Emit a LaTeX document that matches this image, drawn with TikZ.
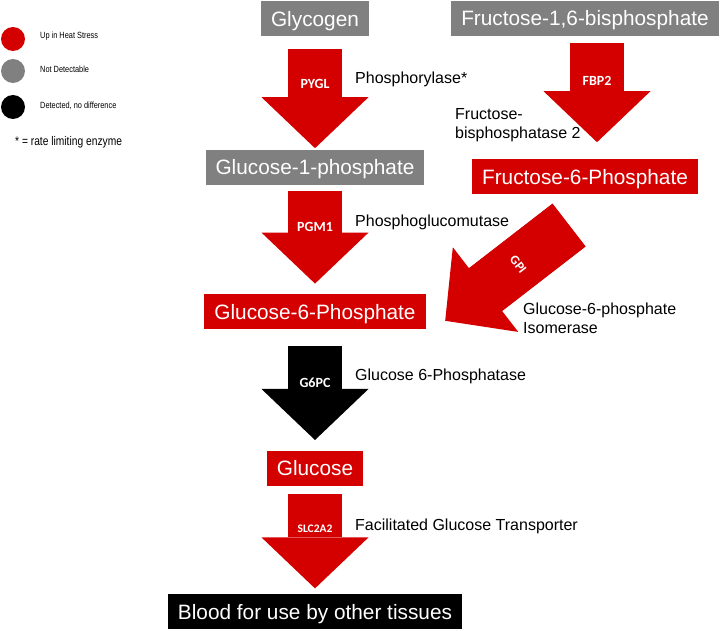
\documentclass[tikz,border=0pt]{standalone}
\usepackage{fontspec}
\setmainfont{Liberation Sans}
\newfontfamily\enzymefont{Carlito}
\newfontfamily\keyfont[FakeStretch=0.82]{Liberation Sans}
\usetikzlibrary{arrows.meta,positioning,calc}
\definecolor{heatred}{RGB}{212,0,0}
\definecolor{ndgray}{RGB}{128,128,128}

\begin{document}
\begin{tikzpicture}[x=1pt,y=1pt,
    met node/.style={inner xsep=10pt,inner ysep=0pt,minimum height=35pt,
      text height=15pt,text depth=0pt,text=white,font=\fontsize{20.8}{25}\selectfont},
    up node/.style={met node,fill=heatred},
    nd node/.style={met node,fill=ndgray},
    same node/.style={met node,fill=black},
    flux/.style={line width=54pt,-{Triangle[length=51pt,width=107pt,line width=0pt]}},
    enzyme/.style={text=white,inner sep=0pt,text height=9pt,text depth=0pt,
      font=\enzymefont\bfseries\fontsize{14}{16}\selectfont},
    enzyme name/.style={anchor=north west,inner sep=0pt,align=left,
      font=\fontsize{16}{19}\selectfont},
    key dot/.style={circle,inner sep=0pt,minimum size=24pt},
    key text/.style={anchor=base west,inner sep=0pt,font=\keyfont\fontsize{9}{11}\selectfont}]

  \useasboundingbox (0,0) rectangle (724,-631);

  % legend
  \node[key dot,fill=heatred] (k1) at (13,-39) {};
  \node[key dot,fill=ndgray] (k2) at (13,-71) {};
  \node[key dot,fill=black] (k3) at (13,-107) {};
  \node[key text] (t1) at (40,-38.5) {Up in Heat Stress};
  \node[key text] (t2) at (40,-73) {Not Detectable};
  \node[key text] (t3) at (40,-109) {Detected, no difference};
  \node[key text,font=\keyfont\fontsize{12.5}{14}\selectfont] (t4) at (15,-146) {* = rate limiting enzyme};

  % metabolites
  \node[nd node] (glycogen) at (315,-19) {Glycogen};
  \node[nd node] (g1p) [below=113pt of glycogen] {Glucose-1-phosphate};
  \node[up node] (g6p) [below=109pt of g1p] {Glucose-6-Phosphate};
  \node[up node] (glucose) [below=121pt of g6p] {Glucose};
  \node[same node] (blood) [below=108pt of glucose] {Blood for use by other tissues};
  \node[nd node] (f16bp) at (585,-18.5) {Fructose-1,6-bisphosphate};
  \node[up node] (f6p) [below=123pt of f16bp] {Fructose-6-Phosphate};

  \coordinate (gpi start) at ([shift={(-16pt,-30.5pt)}]f6p.south);
  \coordinate (gpi tip) at ([shift={(19.4pt,-9pt)}]g6p.east);

  % enzymes
  \path
    ([yshift=-12.5pt]glycogen.south) edge[flux,heatred] node[enzyme,pos=0.35] {PYGL} ([yshift=1.5pt]g1p.north)
    ([yshift=-5.5pt]g1p.south) edge[flux,heatred] node[enzyme,pos=0.39] {PGM1} ([yshift=10.5pt]g6p.north)
    ([yshift=-16.5pt]g6p.south) edge[flux,black] node[enzyme,pos=0.39] {G6PC} ([yshift=10.5pt]glucose.north)
    ([yshift=-8.5pt]glucose.south) edge[flux,heatred] node[enzyme,pos=0.37,text height=7.4pt,
        font=\enzymefont\bfseries\fontsize{11.5}{13}\selectfont] {SLC2A2} ([yshift=5.5pt]blood.north)
    ([shift={(12pt,-7pt)}]f16bp.south) edge[flux,heatred] node[enzyme,pos=0.38] {FBP2} ([shift={(12pt,17pt)}]f6p.north)
    (gpi start) edge[flux,heatred] (gpi tip);
  % fill the seam where the slanted shaft meets its head
  \draw[heatred,line width=54pt] (gpi start) -- ($(gpi start)!0.72!(gpi tip)$);
  \node[enzyme,rotate=-52.4,text height=8.4pt,font=\enzymefont\bfseries\fontsize{13}{15}\selectfont]
    (gpi) at ($(gpi start)!0.41!(gpi tip)$) {GPI};

  \node[enzyme name] (pygl name) at (355,-72) {Phosphorylase*};
  \node[enzyme name] (fbp2 name) at (455,-108) {Fructose-\\bisphosphatase 2};
  \node[enzyme name] (pgm1 name) at (355,-215) {Phosphoglucomutase};
  \node[enzyme name] (gpi name) at (523,-303) {Glucose-6-phosphate\\Isomerase};
  \node[enzyme name] (g6pc name) at (355,-369) {Glucose 6-Phosphatase};
  \node[enzyme name] (slc name) at (355,-519) {Facilitated Glucose Transporter};
\end{tikzpicture}
\end{document}
